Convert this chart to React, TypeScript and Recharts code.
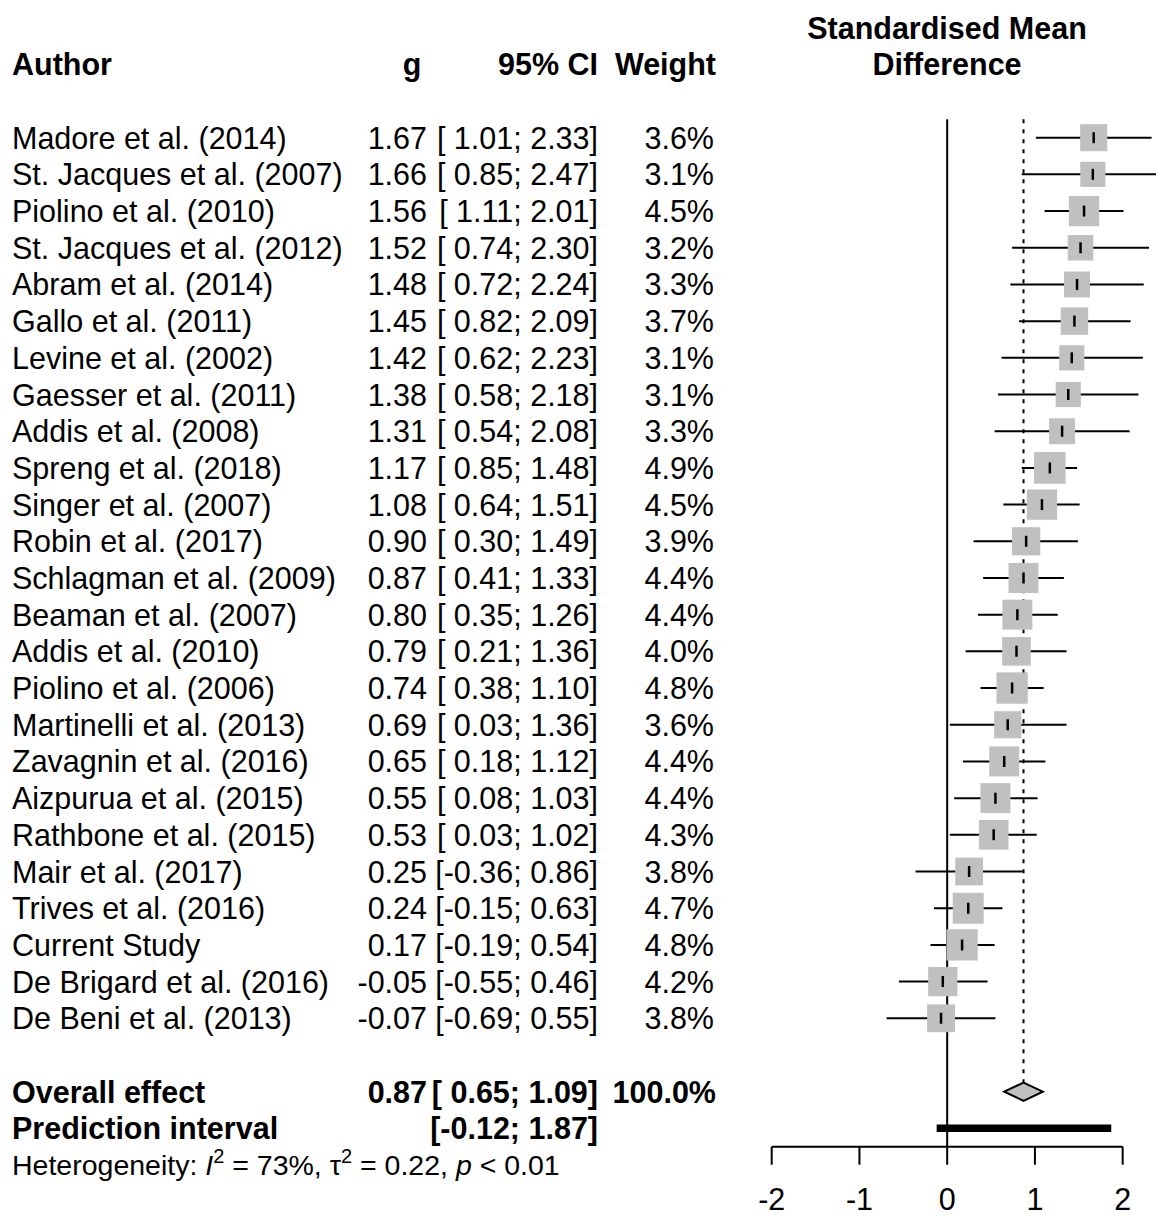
import { ScatterChart, Scatter, XAxis, YAxis, ZAxis, ErrorBar, ReferenceLine, ReferenceArea } from 'recharts';

const authors = [
  'Madore et al. (2014)', 'St. Jacques et al. (2007)', 'Piolino et al. (2010)', 'St. Jacques et al. (2012)',
  'Abram et al. (2014)', 'Gallo et al. (2011)', 'Levine et al. (2002)', 'Gaesser et al. (2011)',
  'Addis et al. (2008)', 'Spreng et al. (2018)', 'Singer et al. (2007)', 'Robin et al. (2017)',
  'Schlagman et al. (2009)', 'Beaman et al. (2007)', 'Addis et al. (2010)', 'Piolino et al. (2006)',
  'Martinelli et al. (2013)', 'Zavagnin et al. (2016)', 'Aizpurua et al. (2015)', 'Rathbone et al. (2015)',
  'Mair et al. (2017)', 'Trives et al. (2016)', 'Current Study', 'De Brigard et al. (2016)', 'De Beni et al. (2013)',
];
const effects = [1.67, 1.66, 1.56, 1.52, 1.48, 1.45, 1.42, 1.38, 1.31, 1.17, 1.08, 0.90, 0.87, 0.80, 0.79, 0.74, 0.69, 0.65, 0.55, 0.53, 0.25, 0.24, 0.17, -0.05, -0.07];
const lower = [1.01, 0.85, 1.11, 0.74, 0.72, 0.82, 0.62, 0.58, 0.54, 0.85, 0.64, 0.30, 0.41, 0.35, 0.21, 0.38, 0.03, 0.18, 0.08, 0.03, -0.36, -0.15, -0.19, -0.55, -0.69];
const upper = [2.33, 2.47, 2.01, 2.30, 2.24, 2.09, 2.23, 2.18, 2.08, 1.48, 1.51, 1.49, 1.33, 1.26, 1.36, 1.10, 1.36, 1.12, 1.03, 1.02, 0.86, 0.63, 0.54, 0.46, 0.55];
const weights = [3.6, 3.1, 4.5, 3.2, 3.3, 3.7, 3.1, 3.1, 3.3, 4.9, 4.5, 3.9, 4.4, 4.4, 4.0, 4.8, 3.6, 4.4, 4.4, 4.3, 3.8, 4.7, 4.8, 4.2, 3.8];

const overall = { g: 0.87, lo: 0.65, hi: 1.09, weight: 100.0 };
const prediction = { lo: -0.12, hi: 1.87 };
const heterogeneity = { i2: '73%', tau2: '0.22', p: '< 0.01' };
const xTicks = [-2, -1, 0, 1, 2];

const FONT = '"Liberation Sans", Arial, Helvetica, sans-serif';
const FS = 30.5;
const COL = { author: 12, g: 427, ci: 598, weight: 714, panel: 947 };
const SQUARE = '#c0c0c0';

const fmt = (v: number) => v.toFixed(2);
const fmtCi = (lo: number, hi: number) => `[${lo >= 0 ? ' ' : ''}${fmt(lo)}; ${fmt(hi)}]`;

const studies = authors.map((a, i) => ({
  row: i + 1,
  g: effects[i],
  err: [effects[i] - lower[i], upper[i] - effects[i]],
  w: weights[i],
}));

const overallRow = studies.length + 2;
const predRow = overallRow + 1;

const textRows = [
  { x: 0, row: -2, kind: 'title' },
  { x: 0, row: -1, kind: 'header' },
  ...authors.map((a, i) => ({
    x: 0,
    row: i + 1,
    kind: 'study',
    author: a,
    g: fmt(effects[i]),
    ci: fmtCi(lower[i], upper[i]),
    weight: `${weights[i].toFixed(1)}%`,
  })),
  { x: 0, row: overallRow, kind: 'overall' },
  { x: 0, row: predRow, kind: 'pred' },
];

function StudySquare(props: any) {
  const { cx, cy, size, width } = props;
  const s = typeof size === 'number' ? Math.sqrt(size) : (width * Math.sqrt(Math.PI)) / 2;
  return (
    <g>
      <rect x={cx - s / 2} y={cy - s / 2} width={s} height={s} fill={SQUARE} />
      <line x1={cx} x2={cx} y1={cy - 5.5} y2={cy + 5.5} stroke="#000" strokeWidth={2.5} />
    </g>
  );
}

function Diamond(props: any) {
  const { x, y, width, height } = props;
  const pts = [
    [x, y + height / 2],
    [x + width / 2, y],
    [x + width, y + height / 2],
    [x + width / 2, y + height],
  ].map((p) => p.join(',')).join(' ');
  return <polygon points={pts} fill={SQUARE} stroke="#000" strokeWidth={2} />;
}

function TextRow(props: any) {
  const { cy, payload } = props;
  const base = cy + 11;
  const t = { fontFamily: FONT, fontSize: FS, fill: '#000', style: { whiteSpace: 'pre' as const } };
  const b = { ...t, fontWeight: 'bold' as const };

  if (payload.kind === 'title') {
    return <text {...b} x={COL.panel} y={base} textAnchor="middle">Standardised Mean</text>;
  }
  if (payload.kind === 'header') {
    return (
      <g>
        <text {...b} x={COL.author} y={base}>Author</text>
        <text {...b} x={412} y={base} textAnchor="middle">g</text>
        <text {...b} x={COL.ci} y={base} textAnchor="end">95% CI</text>
        <text {...b} x={COL.weight + 2} y={base} textAnchor="end">Weight</text>
        <text {...b} x={COL.panel} y={base} textAnchor="middle">Difference</text>
      </g>
    );
  }
  if (payload.kind === 'overall') {
    return (
      <g>
        <text {...b} x={COL.author} y={base}>Overall effect</text>
        <text {...b} x={COL.g} y={base} textAnchor="end">{fmt(overall.g)}</text>
        <text {...b} x={COL.ci} y={base} textAnchor="end">{fmtCi(overall.lo, overall.hi)}</text>
        <text {...b} x={COL.weight + 2} y={base} textAnchor="end">{`${overall.weight.toFixed(1)}%`}</text>
      </g>
    );
  }
  if (payload.kind === 'pred') {
    const hs = { fontFamily: FONT, fontSize: 28.5, fill: '#000' };
    return (
      <g>
        <text {...b} x={COL.author} y={base}>Prediction interval</text>
        <text {...b} x={COL.ci} y={base} textAnchor="end">{fmtCi(prediction.lo, prediction.hi)}</text>
        <text {...hs} x={COL.author} y={base + 36} style={{ whiteSpace: 'pre' }}>
          <tspan>Heterogeneity: </tspan>
          <tspan fontStyle="italic">I</tspan>
          <tspan fontSize={20} dy={-12}>2</tspan>
          <tspan dy={12}>{` = ${heterogeneity.i2}, `}</tspan>
          <tspan>τ</tspan>
          <tspan fontSize={20} dy={-12}>2</tspan>
          <tspan dy={12}>{` = ${heterogeneity.tau2}, `}</tspan>
          <tspan fontStyle="italic">p</tspan>
          <tspan>{` ${heterogeneity.p}`}</tspan>
        </text>
      </g>
    );
  }
  return (
    <g>
      <text {...t} x={COL.author} y={base}>{payload.author}</text>
      <text {...t} x={COL.g} y={base} textAnchor="end">{payload.g}</text>
      <text {...t} x={COL.ci} y={base} textAnchor="end">{payload.ci}</text>
      <text {...t} x={COL.weight} y={base} textAnchor="end">{payload.weight}</text>
    </g>
  );
}

function AxisTick(props: any) {
  const { x, y, payload } = props;
  return (
    <text x={x} y={y + 45} textAnchor="middle" fontFamily={FONT} fontSize={FS} fill="#000">
      {payload.value}
    </text>
  );
}

export default function App() {
  return (
    <div style={{ position: 'absolute', left: 0, top: 0, background: '#fff' }}>
      <ScatterChart
        width={1156}
        height={1216}
        margin={{ top: 27.6, right: 0, bottom: 0, left: 771.7 }}
        style={{ fontFamily: FONT }}
      >
        <XAxis
          dataKey="g"
          type="number"
          domain={[-2, 2.38]}
          allowDataOverflow
          ticks={xTicks}
          axisLine={false}
          tickLine={{ stroke: '#000', strokeWidth: 2 }}
          tickSize={18}
          tickMargin={0}
          height={69.3}
          tick={<AxisTick />}
          interval={0}
        />
        <XAxis xAxisId="tx" dataKey="x" type="number" domain={[0, 1]} hide />
        <YAxis dataKey="row" type="number" domain={[-2, 28.5]} reversed hide />
        <ZAxis dataKey="w" type="number" domain={[0, 5]} range={[0, 1020]} />

        <ReferenceLine segment={[{ x: 0, y: 0.5 }, { x: 0, y: 28.5 }]} stroke="#000" strokeWidth={2} />
        <ReferenceLine
          segment={[{ x: overall.g, y: 0.5 }, { x: overall.g, y: overallRow - 0.25 }]}
          stroke="#000"
          strokeWidth={2}
          strokeDasharray="4 6"
        />
        <ReferenceLine segment={[{ x: -2, y: 28.5 }, { x: 2, y: 28.5 }]} stroke="#000" strokeWidth={2} />
        <ReferenceLine
          segment={[{ x: prediction.lo, y: predRow }, { x: prediction.hi, y: predRow }]}
          stroke="#000"
          strokeWidth={7.5}
        />
        <ReferenceArea
          x1={overall.lo}
          x2={overall.hi}
          y1={overallRow - 0.25}
          y2={overallRow + 0.25}
          shape={<Diamond />}
        />

        <Scatter data={studies} shape={<StudySquare />} isAnimationActive={false} />
        <Scatter data={studies} shape={() => <g />} isAnimationActive={false}>
          <ErrorBar dataKey="err" direction="x" width={0} stroke="#000" strokeWidth={2} isAnimationActive={false} />
        </Scatter>
        <Scatter xAxisId="tx" data={textRows} shape={<TextRow />} isAnimationActive={false} />
      </ScatterChart>
    </div>
  );
}
